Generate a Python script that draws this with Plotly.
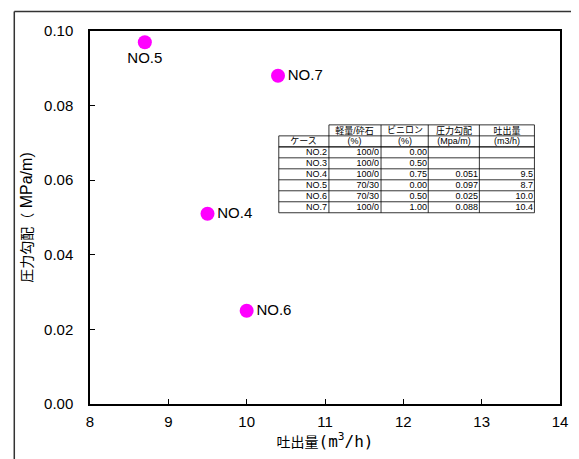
import plotly.graph_objects as go

# ---- data ----
case_labels = ["NO.5", "NO.7", "NO.4", "NO.6"]
flow_rate = [8.7, 10.4, 9.5, 10.0]          # 吐出量 (m3/h)
pressure_grad = [0.097, 0.088, 0.051, 0.025]  # 圧力勾配 (MPa/m)
label_pos = ["bottom center", "middle right", "middle right", "middle right"]

x_ticks = [8, 9, 10, 11, 12, 13, 14]
y_ticks = [0.00, 0.02, 0.04, 0.06, 0.08, 0.10]

table_header1 = ["", "軽量/砕石", "ビニロン", "圧力勾配", "吐出量"]
table_header2 = ["ケース", "(%)", "(%)", "(Mpa/m)", "(m3/h)"]
table_rows = [
    ["NO.2", "100/0", "0.00", "", ""],
    ["NO.3", "100/0", "0.50", "", ""],
    ["NO.4", "100/0", "0.75", "0.051", "9.5"],
    ["NO.5", "70/30", "0.00", "0.097", "8.7"],
    ["NO.6", "70/30", "0.50", "0.025", "10.0"],
    ["NO.7", "100/0", "1.00", "0.088", "10.4"],
]

# ---- layout geometry (reference pixels; page body has an 8px margin) ----
OFF = 8
W, H = 579 - OFF, 459 - OFF
PL, PR, PT, PB = 90, 568, 30.5, 404   # plot-area edges in reference pixels
ML, MT = PL - OFF, PT - OFF
MR, MB = W - (PR - OFF), H - (PB - OFF)
PW, PH = PR - PL, PB - PT

def px(xp):
    return (xp - PL) / PW

def py(yp):
    return (PB - yp) / PH

FONT = "Liberation Sans, Arial, Noto Sans CJK JP, sans-serif"
JFONT = "Noto Sans CJK JP, Liberation Sans, sans-serif"

fig = go.Figure()
fig.add_trace(go.Scatter(
    x=flow_rate, y=pressure_grad, mode="markers+text",
    text=case_labels, textposition=label_pos,
    textfont=dict(family=FONT, size=15, color="black"),
    marker=dict(color="#FF00FF", size=14, line=dict(width=0)),
    showlegend=False, cliponaxis=False,
))

shapes = []
annotations = []

# outer frame (left and top lines)
shapes.append(dict(type="line", xref="paper", yref="paper",
                   x0=px(13), y0=py(11), x1=px(13), y1=py(480),
                   line=dict(color="#333333", width=1.5)))
shapes.append(dict(type="line", xref="paper", yref="paper",
                   x0=px(13), y0=py(11), x1=px(600), y1=py(11),
                   line=dict(color="#333333", width=1.5)))

# table grid
col_edges = [282, 333, 386, 434, 486, 542]
row_top = 124.5
row_h = 11
n_rows = 2 + len(table_rows)
row_edges = [row_top + i * row_h for i in range(n_rows + 1)]
for i, ye in enumerate(row_edges):
    x_start = col_edges[1] if i == 0 else col_edges[0]
    shapes.append(dict(type="line", xref="paper", yref="paper",
                       x0=px(x_start), x1=px(col_edges[-1]),
                       y0=py(ye), y1=py(ye),
                       line=dict(color="black", width=1.2 if i == 2 else 0.8)))
for j, xe in enumerate(col_edges):
    y_start = row_edges[1] if j == 0 else row_edges[0]
    shapes.append(dict(type="line", xref="paper", yref="paper",
                       x0=px(xe), x1=px(xe),
                       y0=py(y_start), y1=py(row_edges[-1]),
                       line=dict(color="black", width=0.8)))

TFONT = "Liberation Sans, Noto Sans CJK JP, sans-serif"

def cell_text(r, c, txt, align):
    if not txt:
        return
    yc = (row_edges[r] + row_edges[r + 1]) / 2
    xc = (col_edges[c] + col_edges[c + 1]) / 2
    annotations.append(dict(x=px(xc), y=py(yc), xref="paper", yref="paper",
                            text=txt, showarrow=False, xanchor="center",
                            yanchor="middle", align=align,
                            width=col_edges[c + 1] - col_edges[c] - 4,
                            borderpad=0,
                            font=dict(family=TFONT, size=9, color="black")))

for c, t in enumerate(table_header1):
    cell_text(0, c, t, "center")
for c, t in enumerate(table_header2):
    cell_text(1, c, t, "center")
for r, row in enumerate(table_rows):
    for c, t in enumerate(row):
        cell_text(r + 2, c, t, "right")

MONO = "DejaVu Sans Mono, monospace"
x_title = f"吐出量<span style='font-family:{MONO};font-size:16px'>(m<sup>3</sup>/h)</span>"
y_title = f"圧力勾配（<span style='font-family:Liberation Sans;font-size:16px'> MPa/m)</span>"

fig.update_layout(
    width=W, height=H,
    margin=dict(l=ML, r=MR, t=MT, b=MB),
    paper_bgcolor="white", plot_bgcolor="white",
    font=dict(family=FONT, size=15, color="black"),
    shapes=shapes, annotations=annotations,
    xaxis=dict(
        range=[8, 14], tickvals=x_ticks, ticktext=[str(v) for v in x_ticks],
        ticks="inside", ticklen=5, tickcolor="black",
        showline=True, linecolor="black", linewidth=1.5, mirror=True,
        showgrid=False, zeroline=False,
        tickfont=dict(family=FONT, size=15),
        ticklabelstandoff=3,
        title=dict(text=x_title, standoff=8,
                   font=dict(family=JFONT, size=14)),
    ),
    yaxis=dict(
        range=[0, 0.10], tickvals=y_ticks,
        ticktext=[f"{v:.2f}" for v in y_ticks],
        ticks="inside", ticklen=5, tickcolor="black",
        showline=True, linecolor="black", linewidth=1.5, mirror=True,
        showgrid=False, zeroline=False,
        tickfont=dict(family=FONT, size=15),
        ticklabelstandoff=12,
        title=dict(text=y_title, standoff=8,
                   font=dict(family=JFONT, size=14)),
    ),
)

fig.write_html("out.html")
